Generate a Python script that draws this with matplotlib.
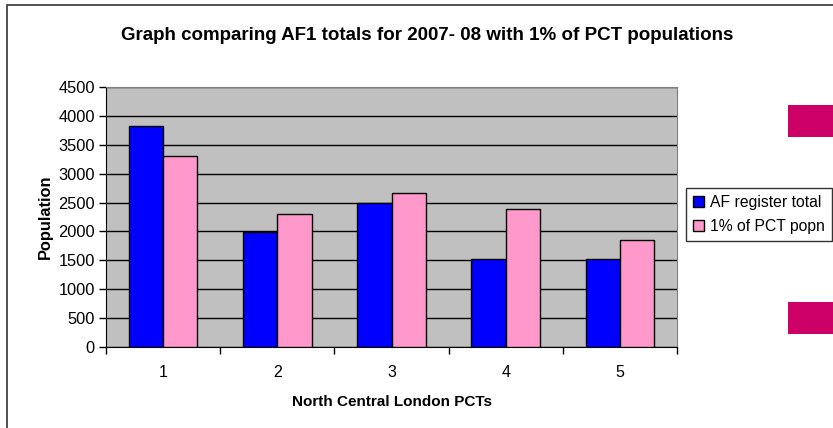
import numpy as np
import matplotlib
matplotlib.use('Agg')
import matplotlib.pyplot as plt
from matplotlib.patches import Rectangle
from matplotlib.ticker import MultipleLocator, FixedLocator

# Données
pcts = ['1', '2', '3', '4', '5']
af_register = [3820, 1990, 2495, 1530, 1530]
pct_popn = [3300, 2310, 2670, 2380, 1850]

plt.rcParams['font.family'] = ['Liberation Sans', 'DejaVu Sans']

fig = plt.figure(figsize=(8.33, 4.28), dpi=100)
ax = fig.add_axes([0.1273, 0.1893, 0.6854, 0.6074])
ax.set_facecolor('#C0C0C0')

x = np.arange(len(pcts))
w = 0.3
ax.bar(x - w / 2, af_register, w, color='#0000FF', edgecolor='black',
       linewidth=1, label='AF register total', zorder=3)
ax.bar(x + w / 2, pct_popn, w, color='#FF99CC', edgecolor='black',
       linewidth=1, label='1% of PCT popn', zorder=3)

ax.set_xlim(-0.5, len(pcts) - 0.5)
ax.set_ylim(0, 4500)
ax.yaxis.set_major_locator(MultipleLocator(500))
ax.grid(axis='y', color='black', linewidth=1, zorder=1)
ax.set_axisbelow(True)

# Graduations x entre les catégories, étiquettes au centre
ax.set_xticks(x)
ax.set_xticklabels(pcts)
ax.xaxis.set_minor_locator(FixedLocator(np.arange(-0.5, len(pcts), 1.0)))
ax.tick_params(axis='x', which='major', length=0, pad=13, labelsize=11.5)
ax.tick_params(axis='x', which='minor', length=5, width=1, direction='out')
ax.tick_params(axis='y', length=5, width=1, labelsize=11.8, pad=3)

for s in ['top', 'right']:
    ax.spines[s].set_color('#808080')
for s in ['left', 'bottom']:
    ax.spines[s].set_color('black')

ax.set_xlabel('North Central London PCTs', fontsize=11, fontweight='bold', labelpad=11)
ax.set_ylabel('Population', fontsize=11.8, fontweight='bold', labelpad=4)

fig.text(0.513, 0.918, 'Graph comparing AF1 totals for 2007- 08 with 1% of PCT populations',
         ha='center', va='center', fontsize=13.5, fontweight='bold')

leg = ax.legend(loc='center left', bbox_to_anchor=(1.016, 0.51), frameon=True,
                fancybox=False, edgecolor='black', fontsize=11.3,
                handlelength=0.7, handleheight=0.7, handletextpad=0.4,
                borderpad=0.45, labelspacing=0.6, borderaxespad=0)
leg.get_frame().set_linewidth(1)

# Bordure du graphique et rectangles magenta à droite
fig.patches.append(Rectangle((7 / 833, -0.1), 1.2, 1 - 5 / 428 + 0.1,
                             transform=fig.transFigure, fill=False,
                             edgecolor='#333333', linewidth=1.2))
for y0 in [1 - 137 / 428, 1 - 334 / 428]:
    fig.patches.append(Rectangle((788 / 833, y0), 0.1, 32 / 428,
                                 transform=fig.transFigure,
                                 facecolor='#CC0066', edgecolor='none'))

fig.savefig('out.png', dpi=100)
